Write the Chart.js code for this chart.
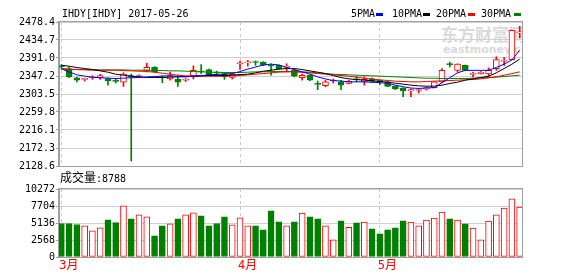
<!DOCTYPE html>
<html>
<head>
<meta charset="utf-8">
<script src="https://cdn.jsdelivr.net/npm/chart.js@4"></script>
<style>
body{margin:0;background:#fff;width:578px;height:276px;overflow:hidden;position:relative;}
canvas{position:absolute;left:0;}
#top{top:0;}
#vol{top:176px;}
.t{position:absolute;font-family:'DejaVu Sans Mono',monospace;font-size:10px;line-height:12px;color:#000;white-space:nowrap;}
.dash{position:absolute;top:13px;width:7px;height:3px;}
#wm{position:absolute;left:441px;top:24px;width:81px;height:30px;overflow:hidden;color:#dadada;font-weight:bold;white-space:nowrap;}
</style>
</head>
<body>
<div id="wm">
  <div style="font:bold 17px 'Noto Sans CJK SC';line-height:20px;">东方财富网</div>
  <div style="font:bold 11px 'DejaVu Sans';line-height:11px;margin-left:2px;">eastmoney.com</div>
</div>
<canvas id="top" width="578" height="180"></canvas>
<canvas id="vol" width="578" height="100"></canvas>
<div class="t" style="left:62px;top:8px;">IHDY[IHDY] 2017-05-26</div>
<div class="t" style="left:351px;top:8px;">5PMA</div><div class="dash" style="left:376px;background:#0000ff;"></div>
<div class="t" style="left:392px;top:8px;">10PMA</div><div class="dash" style="left:423px;background:#000;"></div>
<div class="t" style="left:436px;top:8px;">20PMA</div><div class="dash" style="left:468px;background:#ff0000;"></div>
<div class="t" style="left:481px;top:8px;">30PMA</div><div class="dash" style="left:514px;background:#008000;"></div>
<div class="t" style="left:60px;top:171px;"><span style="font-family:'Noto Sans CJK SC';font-size:12px;">成交量</span>:8788</div>
<script>
'use strict';
// one candle per trading day, 2017-03-01 .. 2017-05-26
const open  = [2372,2365,2343,2339,2343,2343,2341,2335,2332,2348,2346,2361,2369,2344,2340,2340,2337,2347,2358,2363,2355,2353,2344,2377,2379,2381,2381,2372,2373,2368,2361,2343,2349,2328,2324,2335,2333,2329,2339,2333,2341,2337,2333,2322,2317,2311,2312,2315,2319,2333,2376,2361,2373,2351,2353,2352,2365,2383,2387,2452];
const close = [2369,2345,2337,2340,2344,2348,2335,2334,2352,2345,2347,2368,2357,2343,2347,2332,2338,2361,2357,2349,2354,2345,2351,2378,2380,2380,2374,2371,2365,2369,2347,2349,2337,2327,2333,2336,2325,2335,2338,2339,2334,2333,2322,2316,2311,2314,2313,2319,2333,2361,2375,2376,2361,2352,2357,2361,2387,2384,2458,2453];
const high  = [2375,2369,2344,2342,2348,2351,2342,2341,2355,2352,2350,2378,2370,2348,2357,2349,2341,2372,2375,2364,2359,2356,2356,2383,2385,2384,2382,2377,2374,2377,2363,2352,2350,2335,2337,2340,2337,2337,2347,2345,2342,2338,2335,2323,2319,2316,2317,2321,2334,2365,2381,2377,2374,2357,2358,2367,2394,2392,2459,2468];
const low   = [2366,2343,2333,2335,2339,2339,2325,2330,2322,2141,2344,2357,2356,2331,2337,2322,2334,2340,2353,2348,2347,2339,2340,2363,2371,2373,2372,2349,2364,2357,2345,2337,2336,2314,2321,2330,2314,2328,2333,2325,2332,2326,2321,2314,2297,2297,2306,2313,2318,2331,2369,2357,2360,2345,2352,2345,2361,2373,2386,2440];
const volume = [5060,5060,4910,4700,3950,4400,5620,5210,7740,5770,6380,6070,3190,4700,5010,5770,6380,6680,6220,4700,5060,6070,4860,5920,4700,4700,4100,6980,5310,4700,5310,6630,6070,5770,4700,2580,5460,4500,5160,5260,4250,3490,4100,4400,5460,5260,4700,5570,5870,6780,5770,5570,5010,4350,2580,5410,6380,7390,8790,7540];
const ma5  = [2365,2357,2350,2347,2344,2343,2342,2341,2342,2343,2343.5,2345,2346,2347,2348,2346,2345,2347,2348,2350,2351,2352,2353,2358,2364,2369,2374,2376,2374,2368,2363,2357,2352,2345,2340,2336,2335,2333,2333,2333,2332,2331,2329,2325,2321,2318,2317,2318,2319,2331,2343,2355,2361,2361,2361,2361,2368,2376,2386,2410];
const ma10 = [2373.4,2371,2367.8,2365.4,2363,2359.7,2356.5,2351.6,2349.2,2346.8,2345.2,2343.5,2343.5,2343.5,2344.4,2345.2,2346,2346.8,2347.6,2348.4,2348.4,2348.4,2349.2,2350.8,2351.6,2354.9,2358.9,2361.3,2363.7,2365.4,2365.4,2362.9,2359.7,2356.5,2353.2,2348.4,2343.5,2340.3,2338.7,2337.1,2335.5,2333.8,2332.2,2329.8,2327.4,2325,2323.3,2322.5,2322.5,2325,2329,2332.2,2337.1,2340.3,2343.5,2346.8,2354.9,2365.4,2375.9,2388];
const ma20 = [2365.4,2363.7,2362.9,2362.1,2361.3,2361.3,2361.3,2361.3,2360.5,2359.7,2358.9,2358.1,2356.5,2354,2351.6,2349.2,2347.6,2346.8,2346.8,2346.8,2346.8,2346.8,2347.6,2348.4,2350,2351.6,2353.2,2354.9,2356.5,2357.3,2357.3,2356.5,2354.9,2353.2,2351.6,2350,2348.4,2346.8,2344.4,2341.9,2339.5,2337.9,2336.3,2334.7,2333.8,2333,2333,2333.8,2334.7,2335.5,2336.3,2337.1,2337.9,2338.7,2340.3,2342.7,2345.2,2349.2,2353.2,2357.3];
const ma30 = [2363.7,2362.9,2362.9,2362.9,2362.9,2362.1,2362.1,2362.1,2362.1,2361.3,2361.3,2361.3,2360.5,2360.5,2359.7,2359.7,2358.9,2358.1,2357.3,2356.5,2356.5,2355.7,2355.7,2355.7,2356.5,2357.3,2357.3,2358.1,2358.1,2358.1,2358.1,2357.3,2356.5,2354.9,2353.2,2351.6,2350.8,2350,2349.2,2348.4,2347.6,2346.8,2346,2345.2,2344.4,2343.5,2342.7,2341.9,2341.9,2341.1,2341.1,2341.1,2341.1,2341.9,2342.7,2343.5,2344.4,2346,2347.6,2349.2];
const monthStarts = [0, 23, 41];
const monthLabels = ['3月', '4月', '5月'];
const priceTicks = [2128.6, 2172.3, 2216.1, 2259.8, 2303.5, 2347.2, 2391.0, 2434.7, 2478.4];
const volTicks = [0, 2568, 5136, 7704, 10272];

const RED = '#ff0000';
const GREEN = '#008000';
const up = open.map((o, i) => close[i] >= o);
const tickFont = {family: "'DejaVu Sans Mono', monospace", size: 10};

// gray box round the plot area
const frame = {
  id: 'frame',
  beforeDatasetsDraw(chart) {
    const a = chart.chartArea;
    const c = chart.ctx;
    c.save();
    c.strokeStyle = '#a0a0a0';
    c.lineWidth = 1;
    c.strokeRect(Math.round(a.left) - 0.5, Math.round(a.top) - 0.5, Math.round(a.right - a.left) + 1, Math.round(a.bottom - a.top) + 1);
    c.restore();
  }
};

function xScale(showLabels) {
  return {
    type: 'linear', min: -0.3, max: 59.3, offset: false,
    afterBuildTicks: s => { s.ticks = monthStarts.map(v => ({value: v})); },
    afterFit: s => { s.height = showLabels ? 16 : 0; },
    ticks: {
      display: showLabels, color: RED, align: 'start', labelOffset: -2, padding: 2,
      maxRotation: 0, autoSkip: false,
      font: {family: "'DejaVu Sans Mono', 'Noto Sans CJK SC'", size: 12},
      callback: v => monthLabels[monthStarts.indexOf(v)]
    },
    grid: {color: '#c8c8c8', drawTicks: false, offset: false},
    border: {display: false, dash: [3, 3]}
  };
}

function yScale(min, max, ticks, fmt) {
  return {
    min: min, max: max,
    afterBuildTicks: s => { s.ticks = ticks.map(v => ({value: v})); },
    afterFit: s => { s.width = 59; },
    ticks: {color: '#000', font: tickFont, padding: 1, callback: fmt},
    grid: {color: '#d0d0d0', tickLength: 3, tickColor: '#a0a0a0'},
    border: {color: '#a0a0a0'}
  };
}

function maLine(values, color) {
  return {
    type: 'line', data: values.map((v, i) => ({x: i, y: v})),
    borderColor: color, borderWidth: 1, pointRadius: 0, tension: 0, order: 0
  };
}

new Chart(document.getElementById('top'), {
  type: 'bar',
  data: {
    datasets: [
      maLine(ma5, '#0000ff'),
      maLine(ma10, '#000000'),
      maLine(ma20, RED),
      maLine(ma30, GREEN),
      {
        data: open.map((o, i) => ({x: i, y: [o, close[i]]})),
        backgroundColor: up.map(u => u ? '#ffffff' : GREEN),
        borderColor: up.map(u => u ? RED : GREEN),
        borderWidth: 1, borderSkipped: false, barThickness: 6, minBarLength: 1,
        grouped: false, order: 1
      },
      {
        data: low.map((l, i) => ({x: i, y: [l, high[i]]})),
        backgroundColor: up.map(u => u ? RED : GREEN),
        barThickness: 1, grouped: false, order: 2
      }
    ]
  },
  options: {
    responsive: false, animation: false,
    layout: {padding: {left: 0, right: 56, top: 22, bottom: 14}},
    plugins: {legend: {display: false}, tooltip: {enabled: false}},
    scales: {
      x: xScale(false),
      y: yScale(2128.6, 2478.4, priceTicks, v => v.toFixed(1))
    }
  },
  plugins: [frame]
});

new Chart(document.getElementById('vol'), {
  type: 'bar',
  data: {
    datasets: [{
      data: volume.map((v, i) => ({x: i, y: v})),
      backgroundColor: up.map(u => u ? '#ffffff' : GREEN),
      borderColor: up.map(u => u ? RED : GREEN),
      borderWidth: 1, borderSkipped: false, barThickness: 6
    }]
  },
  options: {
    responsive: false, animation: false,
    layout: {padding: {left: 0, right: 56, top: 13, bottom: 3}},
    plugins: {legend: {display: false}, tooltip: {enabled: false}},
    scales: {
      x: xScale(true),
      y: yScale(0, 10272, volTicks, v => String(v))
    }
  },
  plugins: [frame]
});
</script>
</body>
</html>
